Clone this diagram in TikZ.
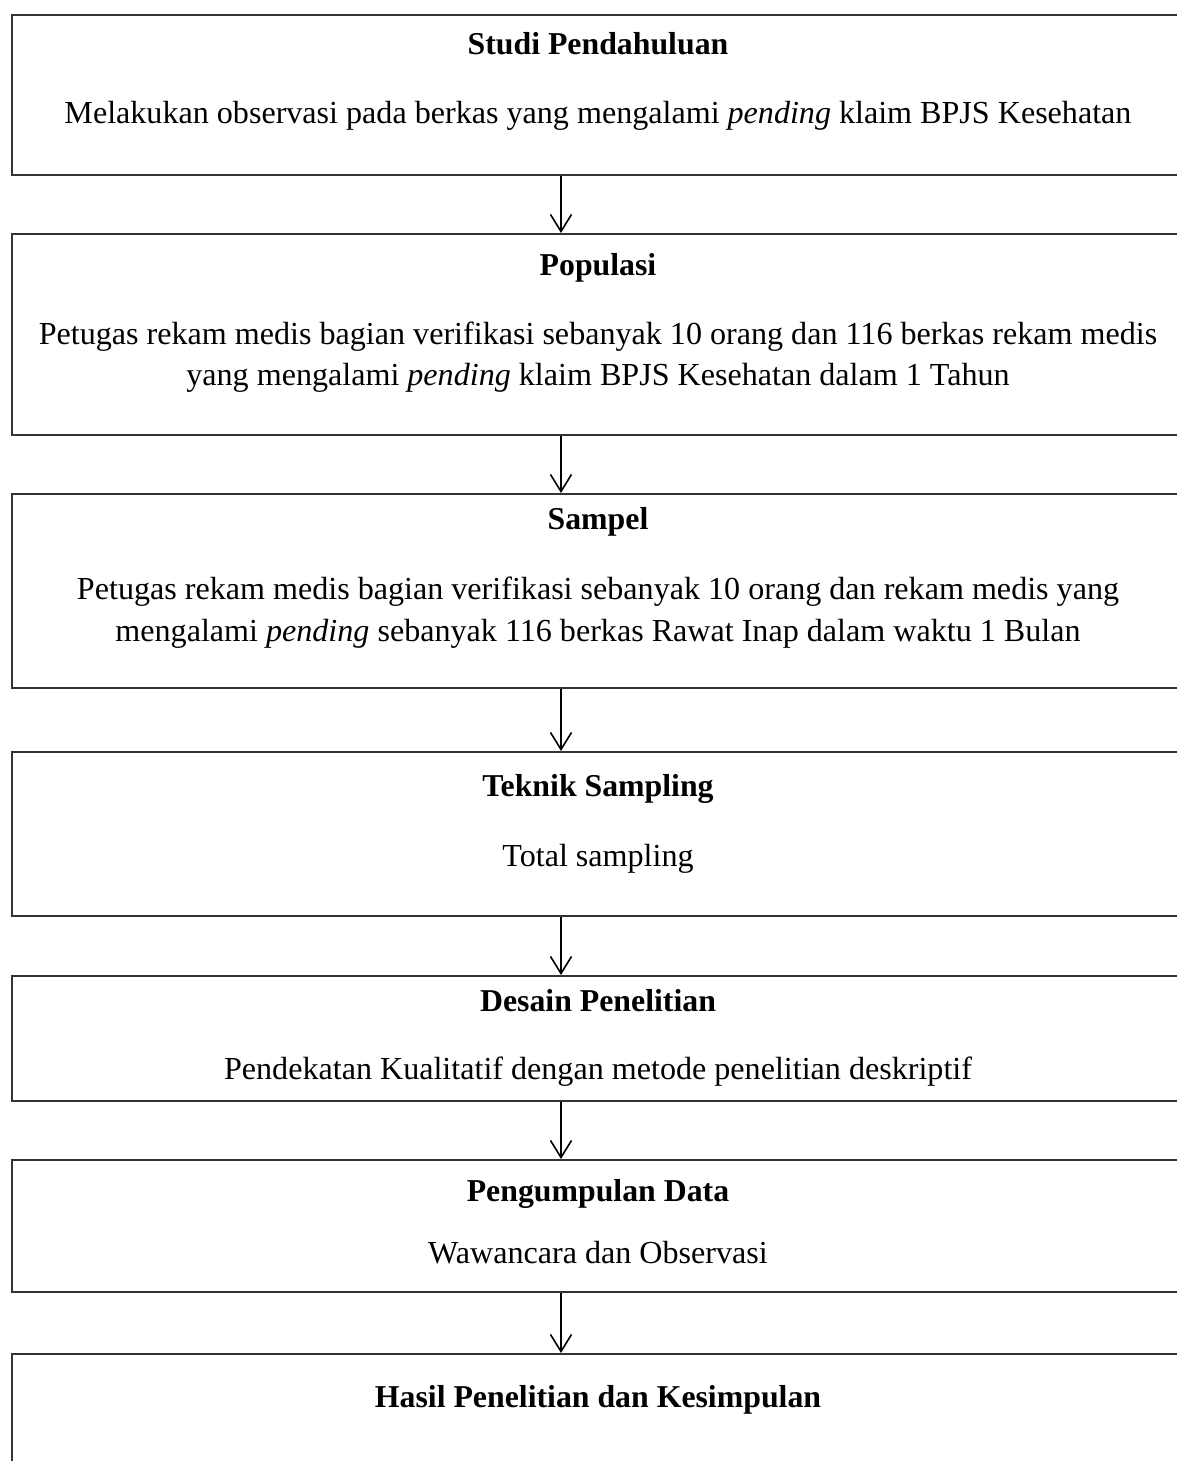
\documentclass[tikz,border=0pt]{standalone}
\usepackage{fontspec}
\setmainfont{Liberation Serif}
\usetikzlibrary{arrows.meta}
\tikzset{
  box/.style={draw=black!80, line width=1.6pt, anchor=north west, minimum width=1200pt, inner sep=0pt},
  title/.style={font=\fontsize{31.8}{40}\selectfont\bfseries, anchor=base, inner sep=0pt},
  body/.style={font=\fontsize{32.1}{41}\selectfont, anchor=base, align=center, inner sep=0pt},
  arr/.style={line width=1.6pt, -{Straight Barb[length=17pt,width=21pt,line width=1.6pt]}},
}
\begin{document}
\begin{tikzpicture}[x=1pt,y=-1pt]
\clip (0,0) rectangle (1177,1461);
\fill[white] (0,0) rectangle (1177,1461);
\coordinate (ax) at (561,0);
\node[box, minimum height=160pt] (b1) at (11,14) {};
\node[box, minimum height=201pt] (b2) at (11,233) {};
\node[box, minimum height=194pt] (b3) at (11,493) {};
\node[box, minimum height=164pt] (b4) at (11,751) {};
\node[box, minimum height=125pt] (b5) at (11,975) {};
\node[box, minimum height=132pt] (b6) at (11,1159) {};
\node[box, minimum height=200pt] (b7) at (11,1353) {};

\node[title] (t1) at (598,55) {Studi Pendahuluan};
\node[body] (d1) at (598,124) {Melakukan observasi pada berkas yang mengalami \textit{pending} klaim BPJS Kesehatan};
\node[title] (t2) at (598,275) {Populasi};
\node[body] (d2) at (598,344) {Petugas rekam medis bagian verifikasi sebanyak 10 orang dan 116 berkas rekam medis};
\node[body] (d2b) at (598,385) {yang mengalami \textit{pending} klaim BPJS Kesehatan dalam 1 Tahun};
\node[title] (t3) at (598,529) {Sampel};
\node[body] (d3) at (598,599) {Petugas rekam medis bagian verifikasi sebanyak 10 orang dan rekam medis yang};
\node[body] (d3b) at (598,641) {mengalami \textit{pending} sebanyak 116 berkas Rawat Inap dalam waktu 1 Bulan};
\node[title] (t4) at (598,796) {Teknik Sampling};
\node[body] (d4) at (598,866) {Total sampling};
\node[title] (t5) at (598,1011) {Desain Penelitian};
\node[body] (d5) at (598,1079) {Pendekatan Kualitatif dengan metode penelitian deskriptif};
\node[title] (t6) at (598,1201) {Pengumpulan Data};
\node[body] (d6) at (598,1263) {Wawancara dan Observasi};
\node[title] (t7) at (598,1407) {Hasil Penelitian dan Kesimpulan};

\draw[arr] (b1.south -| ax) -- (b2.north -| ax);
\draw[arr] (b2.south -| ax) -- (b3.north -| ax);
\draw[arr] (b3.south -| ax) -- (b4.north -| ax);
\draw[arr] (b4.south -| ax) -- (b5.north -| ax);
\draw[arr] (b5.south -| ax) -- (b6.north -| ax);
\draw[arr] (b6.south -| ax) -- (b7.north -| ax);
\end{tikzpicture}
\end{document}
